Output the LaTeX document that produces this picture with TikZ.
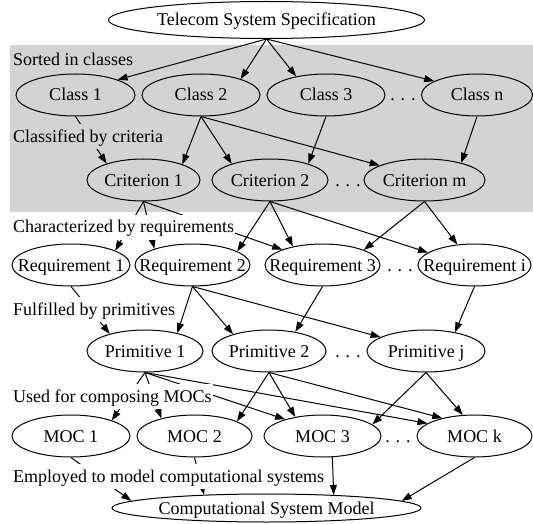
\documentclass[tikz,border=0pt]{standalone}
\usepackage{fontspec}
\setmainfont{Liberation Serif}
\usetikzlibrary{shapes.geometric,arrows.meta}

\definecolor{panelgray}{RGB}{211,211,211}

\tikzset{
    entity/.style={ellipse, draw, line width=1pt, inner xsep=-40pt, inner ysep=0pt,
        minimum height=42pt, text height=12pt, text depth=0pt},
    etc/.style={inner sep=0pt, text height=12pt, text depth=0pt},
    steplabel/.style={anchor=west, fill=white, inner sep=1pt, minimum height=25pt,
        text height=12pt, text depth=0pt},
    flow/.style={line width=1pt, -{Triangle[length=10pt,width=7pt]}}
}

\begin{document}
\begin{tikzpicture}[x=1pt, y=-1pt, font=\fontsize{18}{20}\selectfont]
    \useasboundingbox (0,0) rectangle (533,524);

    % The shaded part
    \fill[panelgray] (10,45) rectangle (533,212);

    % Specification and model
    \node[entity, minimum width=316pt, minimum height=37pt] (spec) at (266.5,20) {Telecom System Specification};
    \node[entity, minimum width=309pt, minimum height=28pt] (csm) at (266.5,508) {Computational System Model};

    % Classes
    \node[entity, minimum width=119pt] (cls1) at (75.5,95) {Class 1};
    \node[entity, minimum width=118pt] (cls2) at (201,95) {Class 2};
    \node[entity, minimum width=118pt] (cls3) at (326,95) {Class 3};
    \node[etc] (clsdots) at (403,95) {. . .};
    \node[entity, minimum width=111pt] (clsn) at (477,95) {Class n};

    % Criteria
    \node[entity, minimum width=113pt] (crit1) at (143.5,180) {Criterion 1};
    \node[entity, minimum width=116pt] (crit2) at (270,180) {Criterion 2};
    \node[etc] (critdots) at (348,180) {. . .};
    \node[entity, minimum width=121pt] (critm) at (424.5,180) {Criterion m};

    % Requirements
    \node[entity, minimum width=118pt] (req1) at (71,265) {Requirement 1};
    \node[entity, minimum width=115pt] (req2) at (192.5,265) {Requirement 2};
    \node[entity, minimum width=115pt] (req3) at (322.5,265) {Requirement 3};
    \node[etc] (reqdots) at (400,265) {. . .};
    \node[entity, minimum width=113pt] (reqi) at (474.5,265) {Requirement i};

    % Primitives
    \node[entity, minimum width=116pt] (prim1) at (145,351) {Primitive 1};
    \node[entity, minimum width=114pt] (prim2) at (269,351) {Primitive 2};
    \node[etc] (primdots) at (348,351) {. . .};
    \node[entity, minimum width=118pt] (primj) at (426,351) {Primitive j};

    % MOCs
    \node[entity, minimum width=118pt] (moc1) at (71,436) {MOC 1};
    \node[entity, minimum width=115pt] (moc2) at (194.5,436) {MOC 2};
    \node[entity, minimum width=117pt] (moc3) at (322.5,436) {MOC 3};
    \node[etc] (mocdots) at (398,436) {. . .};
    \node[entity, minimum width=115pt] (mock) at (474.5,436) {MOC k};

    % Sorted in classes
    \draw[flow] (spec.south) -- (cls1.20);
    \draw[flow] (spec.south) -- (cls2.22);
    \draw[flow] (spec.south) -- (cls3.148);
    \draw[flow] (spec.south) -- (clsn.162);

    % Classified by criteria
    \draw[flow] (cls1.south) -- (crit1.156);
    \draw[flow] (cls2.south) -- (crit1.22);
    \draw[flow] (cls2.south) -- (crit2.157);
    \draw[flow] (cls2.south) -- (critm.162);
    \draw[flow] (cls3.south) -- (crit2.23);
    \draw[flow] (clsn.south) -- (critm.25);

    % Characterized by requirements
    \draw[flow] (crit1.south) -- (req1.18);
    \draw[flow] (crit1.south) -- (req2.157);
    \draw[flow] (crit1.south) -- (req3.159);
    \draw[flow] (crit2.south) -- (req2.17);
    \draw[flow] (crit2.south) -- (req3.148);
    \draw[flow] (crit2.south) -- (reqi.165);
    \draw[flow] (critm.south) -- (req3.20);
    \draw[flow] (critm.south) -- (reqi.130);

    % Fulfilled by primitives
    \draw[flow] (req1.south) -- (prim1.154);
    \draw[flow] (req2.south) -- (prim1.29);
    \draw[flow] (req2.south) -- (prim2.155);
    \draw[flow] (req2.south) -- (primj.163);
    \draw[flow] (req3.south) -- (prim2.36);
    \draw[flow] (reqi.south) -- (primj.33);

    % Used for composing MOCs
    \draw[flow] (prim1.south) -- (moc1.21);
    \draw[flow] (prim1.south) -- (moc2.152);
    \draw[flow] (prim1.south) -- (moc3.156);
    \draw[flow] (prim1.south) -- (mock.165);
    \draw[flow] (prim2.south) -- (moc2.19);
    \draw[flow] (prim2.south) -- (moc3.145);
    \draw[flow] (prim2.south) -- (mock.151);
    \draw[flow] (primj.south) -- (moc3.13);
    \draw[flow] (primj.south) -- (mock.119);

    % Employed to model computational systems
    \draw[flow] (moc1.south) -- (csm.177);
    \draw[flow] (moc2.south) -- (csm.168);
    \draw[flow] (moc3.-65) -- (csm.11);
    \draw[flow] (mock.south) -- (csm.3);

    % The step labels, on top of the edges
    \node[steplabel, fill=panelgray] (lsort) at (12,60) {Sorted in classes};
    \node[steplabel, fill=panelgray] (lclass) at (12,137) {Classified by criteria};
    \node[steplabel] (lchar) at (12,227) {Characterized by requirements};
    \node[steplabel] (lfulfil) at (12,309) {Fulfilled by primitives};
    \node[steplabel] (luse) at (12,396) {Used for composing MOCs};
    \node[steplabel] (lemploy) at (12,476) {Employed to model computational systems};
\end{tikzpicture}
\end{document}
